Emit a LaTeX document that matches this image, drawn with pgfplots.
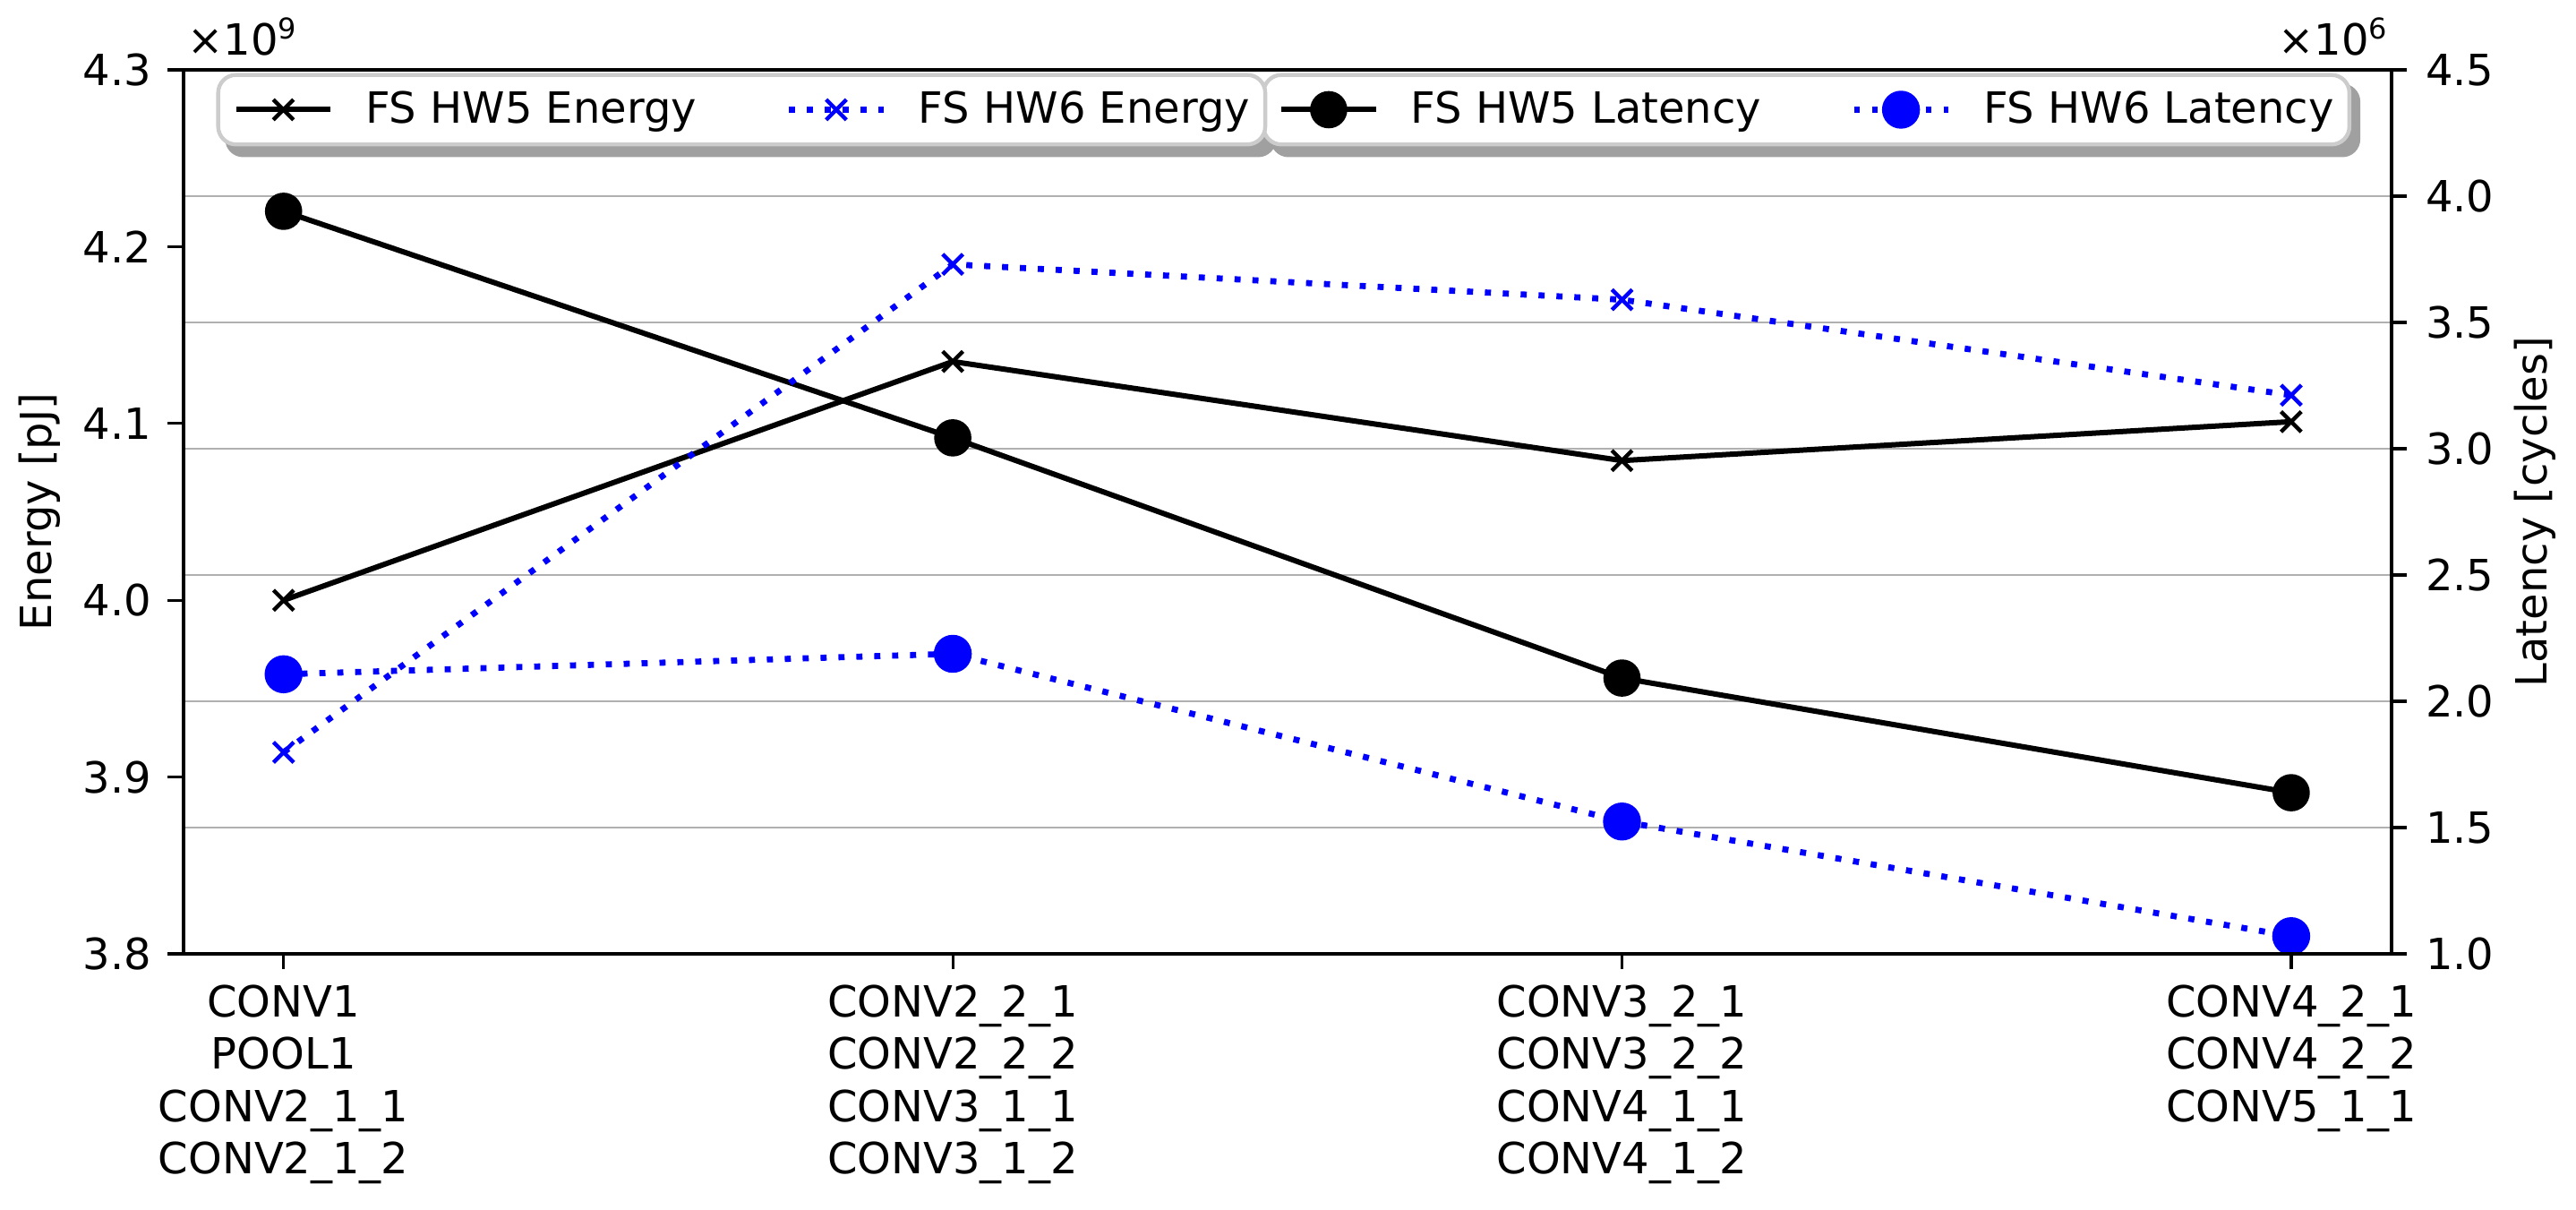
\documentclass[border=0pt]{standalone}
\usepackage{fontspec}
\setmainfont{DejaVu Sans}
\usepackage{pgfplots}
\usepackage{pgfplotstable}
\pgfplotsset{compat=1.18}
\usetikzlibrary{backgrounds}
\definecolor{gridgray}{RGB}{176,176,176}
\definecolor{legedge}{RGB}{204,204,204}
\definecolor{shadowgray}{RGB}{160,160,160}

\pgfplotstableread{
x energy5 energy6 lat5 lat6
0 4.000 3.914 3.940 2.107
1 4.135 4.190 3.043 2.188
2 4.079 4.170 2.092 1.524
3 4.101 4.116 1.638 1.070
}\data

\newcommand{\fs}{\fontsize{12}{14.6}\selectfont}

\pgfplotsset{
  base/.style={
    width=616.6pt, height=246.75pt, scale only axis,
    xmin=-0.15, xmax=3.15,
    tick align=outside, major tick length=4.3pt,
    tick style={line width=0.8pt, black},
    axis line style={line width=1pt},
    /pgf/number format/assume math mode=true,
    tick label style={font=\fs},
    label style={font=\fs},
    scaled ticks=false,
    yticklabel style={/pgf/number format/fixed, /pgf/number format/fixed zerofill, /pgf/number format/precision=1},
    legend cell align=left,
    legend image code/.code={\draw[mark repeat=2,mark phase=2] plot coordinates {(0pt,0pt) (13.15pt,0pt) (26.3pt,0pt)};},
  },
  legsty/.style={
    legend columns=2,
    draw=legedge, line width=1.1pt, rounded corners=5pt, fill=white,
    font=\fs, inner xsep=4.3pt, inner ysep=4.5pt,
    nodes={inner xsep=0pt, inner ysep=0pt},
    /tikz/every odd column/.append style={column sep=9pt},
    /tikz/every even column/.append style={column sep=25pt},
  },
  s5/.style={black, line width=1.5pt, solid},
  s6/.style={blue, line width=1.7pt, dash pattern=on 1.7pt off 3.3pt},
}

\begin{document}
\begin{tikzpicture}
% latency axis (drawn first so the grid lies underneath)
\begin{axis}[base, name=latax,
  axis y line*=right, axis x line=none,
  ymin=1, ymax=4.5,
  ytick={1,1.5,2,2.5,3,3.5,4,4.5},
  yticklabel style={xshift=1.7pt},
  ymajorgrids, grid style={color=gridgray, line width=0.6pt},
  ylabel={Latency [cycles]},
  ylabel style={at={(axis description cs:1.0649,0.5)}, anchor=center},
  legend style={legsty, name=legB, at={(0.4883,0.9965)}, anchor=north west},
]
\addplot[s5, mark=*, mark size=4.45pt, mark options={solid}] table[x=x, y=lat5] {\data};
\addlegendentry{FS HW5 Latency}
\addplot[s6, mark=*, mark size=4.45pt, mark options={solid}] table[x=x, y=lat6] {\data};
\addlegendentry{FS HW6 Latency}
\end{axis}
% energy axis
\begin{axis}[base, name=enax,
  ymin=3.8, ymax=4.3,
  ytick={3.8,3.9,4.0,4.1,4.2,4.3},
  yticklabel style={xshift=-1pt},
  ytick pos=left, xtick pos=bottom,
  xtick={0,1,2,3},
  xticklabels={{CONV1\\POOL1\\CONV2\_1\_1\\CONV2\_1\_2},{CONV2\_2\_1\\CONV2\_2\_2\\CONV3\_1\_1\\CONV3\_1\_2},{CONV3\_2\_1\\CONV3\_2\_2\\CONV4\_1\_1\\CONV4\_1\_2},{CONV4\_2\_1\\CONV4\_2\_2\\CONV5\_1\_1}},
  xticklabel style={align=center, font=\fs, yshift=-0.9pt},
  ylabel={Energy [pJ]},
  ylabel style={at={(axis description cs:-0.0651,0.5)}, anchor=center},
  legend style={legsty, name=legA, at={(0.01496,0.9965)}, anchor=north west},
]
\addplot[s5, mark=x, mark size=4pt, mark options={solid, line width=1.1pt}] table[x=x, y=energy5] {\data};
\addlegendentry{FS HW5 Energy}
\addplot[s6, mark=x, mark size=4pt, mark options={solid, line width=1.1pt}] table[x=x, y=energy6] {\data};
\addlegendentry{FS HW6 Energy}
\end{axis}
\node[anchor=base west, inner sep=0pt, font=\fs] at ([xshift=1pt, yshift=4.15pt]enax.north west) {×10\textsuperscript{9}};
\node[anchor=base east, inner sep=0pt, font=\fs] at ([xshift=-0.5pt, yshift=4.15pt]enax.north east) {×10\textsuperscript{6}};
\begin{scope}[on background layer]
\fill[shadowgray, rounded corners=5pt] ([xshift=2.5pt,yshift=-3pt]legA.south west) rectangle ([xshift=2.5pt,yshift=-3pt]legA.north east);
\fill[shadowgray, rounded corners=5pt] ([xshift=2.5pt,yshift=-3pt]legB.south west) rectangle ([xshift=2.5pt,yshift=-3pt]legB.north east);
\end{scope}
\pgfresetboundingbox
\useasboundingbox (-51.15pt,-71.25pt) rectangle (668.1pt,266.25pt);
\end{tikzpicture}
\end{document}
